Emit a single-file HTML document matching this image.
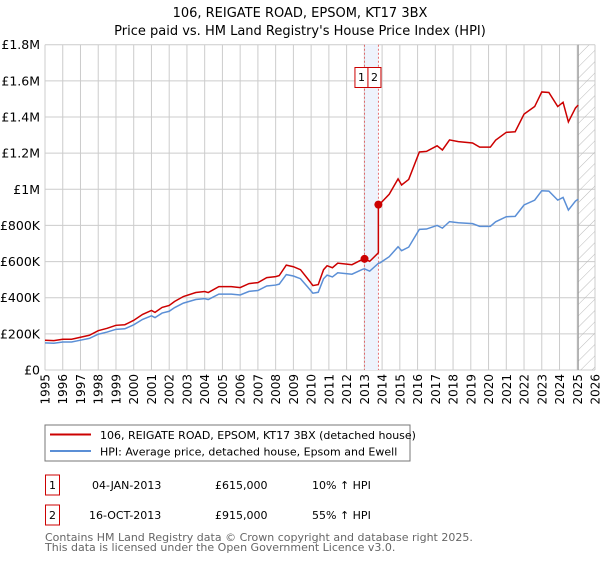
<!DOCTYPE html>
<html><head><meta charset="utf-8"><style>
body{margin:0;background:#fff;font-family:"Liberation Sans","DejaVu Sans",sans-serif}
svg text{font-family:"DejaVu Sans","Liberation Sans",sans-serif}
</style></head><body>
<svg id="c" width="600" height="560" xmlns="http://www.w3.org/2000/svg">
<defs><pattern id="hatch" width="8" height="8" patternUnits="userSpaceOnUse" patternTransform="rotate(45)"><line x1="0" y1="0" x2="0" y2="8" stroke="#bbb" stroke-width="1"/></pattern></defs>
<text x="300" y="17" text-anchor="middle" font-size="13">106, REIGATE ROAD, EPSOM, KT17 3BX</text>
<text x="300" y="35" text-anchor="middle" font-size="13">Price paid vs. HM Land Registry's House Price Index (HPI)</text>
<g id="grid"></g><g id="marks"></g><g id="axes"></g>
<rect x="45" y="425" width="365" height="36" fill="#fff" stroke="#777"/>
<line x1="50" y1="434.5" x2="91" y2="434.5" stroke="#cc0000" stroke-width="2"/>
<text x="100" y="439" font-size="11">106, REIGATE ROAD, EPSOM, KT17 3BX (detached house)</text>
<line x1="50" y1="451" x2="91" y2="451" stroke="#5b8fd6" stroke-width="2"/>
<text x="100" y="455.5" font-size="11">HPI: Average price, detached house, Epsom and Ewell</text>
<g>
<rect x="45.5" y="475" width="14" height="20" fill="#fff" stroke="#cc0000"/><text x="52.5" y="489" font-size="11" text-anchor="middle">1</text>
<text x="92" y="489" font-size="11">04-JAN-2013</text><text x="215" y="489" font-size="11">£615,000</text><text x="312" y="489" font-size="11">10% ↑ HPI</text></g>
<g>
<rect x="45.5" y="505" width="14" height="20" fill="#fff" stroke="#cc0000"/><text x="52.5" y="519" font-size="11" text-anchor="middle">2</text>
<text x="89" y="519" font-size="11">16-OCT-2013</text><text x="215" y="519" font-size="11">£915,000</text><text x="312" y="519" font-size="11">55% ↑ HPI</text></g>
<text x="45" y="541" font-size="11" fill="#666">Contains HM Land Registry data © Crown copyright and database right 2025.</text>
<text x="45" y="551" font-size="11" fill="#666">This data is licensed under the Open Government Licence v3.0.</text>
</svg>
<script>
const yearTicks=[1995,1996,1997,1998,1999,2000,2001,2002,2003,2004,2005,2006,2007,2008,2009,2010,2011,2012,2013,2014,2015,2016,2017,2018,2019,2020,2021,2022,2023,2024,2025,2026];
const valueTicks=[0,200000,400000,600000,800000,1000000,1200000,1400000,1600000,1800000];
const valueTickLabels=["£0","£200K","£400K","£600K","£800K","£1M","£1.2M","£1.4M","£1.6M","£1.8M"];
const hpiDates=[1995.0,1995.5,1996.0,1996.5,1997.0,1997.5,1998.0,1998.5,1999.0,1999.5,2000.0,2000.5,2001.0,2001.2,2001.6,2002.0,2002.3,2002.8,2003.5,2004.0,2004.2,2004.8,2005.5,2006.0,2006.5,2007.0,2007.5,2008.0,2008.2,2008.6,2009.0,2009.4,2009.8,2010.1,2010.4,2010.7,2010.9,2011.2,2011.5,2012.3,2012.9,2013.0,2013.3,2013.79,2013.9,2014.4,2014.9,2015.1,2015.5,2016.1,2016.5,2017.1,2017.4,2017.8,2018.3,2019.1,2019.5,2020.1,2020.4,2021.0,2021.5,2022.0,2022.6,2023.0,2023.4,2023.9,2024.2,2024.5,2024.9,2025.05];
const hpiValues=[150000,148000,155000,155000,165000,175000,198000,210000,225000,228000,250000,280000,300000,290000,315000,325000,345000,370000,390000,395000,390000,420000,420000,415000,435000,440000,465000,470000,475000,528000,520000,505000,460000,425000,430000,505000,525000,515000,538000,530000,557000,560000,547000,590000,594000,627000,682000,660000,680000,778000,780000,800000,785000,821000,815000,810000,795000,795000,820000,848000,850000,913000,940000,992000,990000,940000,955000,885000,935000,945000];
const saleDates=[2013.01,2013.79];
const salePrices=[615000,915000];
const X0=45,X1=595,Y0=370,Y1=44.7;
const x=d=>X0+(d-1995)/(2026-1995)*(X1-X0);
const y=v=>Y0-v/1800000*(Y0-Y1);
const NS="http://www.w3.org/2000/svg";
function mk(p,t,a){const e=document.createElementNS(NS,t);for(const k in a)e.setAttribute(k,a[k]);p.appendChild(e);return e;}
const grid=document.getElementById('grid'),marks=document.getElementById('marks'),axes=document.getElementById('axes');
mk(grid,'rect',{x:X0,y:Y1,width:X1-X0,height:Y0-Y1,fill:'#fff'});
yearTicks.forEach(t=>{const l=mk(grid,'line',{x1:x(t),x2:x(t),y1:Y1,y2:Y0,stroke:'#ccc'});


const tx=mk(axes,'text',{x:0,y:0,'font-size':12,'text-anchor':'end',transform:`translate(${x(t)+4.5},${Y0+4}) rotate(-90)`});tx.textContent=t;

});
valueTicks.forEach((t,i)=>{const l=mk(grid,'line',{x1:X0,x2:X1,y1:y(t),y2:y(t),stroke:'#ccc'});


const tx=mk(axes,'text',{x:40,y:y(t)+4.5,'font-size':12.5,'text-anchor':'end'});tx.textContent=valueTickLabels[i];

});
const band=mk(marks,'rect',{x:x(saleDates[0]),y:Y1,width:x(saleDates[1])-x(saleDates[0]),height:Y0-Y1,fill:'#eef3fc'});


saleDates.forEach((d,i)=>{const l=mk(marks,'line',{x1:x(d),x2:x(d),y1:Y1,y2:Y0,stroke:'#e05050','stroke-dasharray':'2,2','stroke-width':0.8});

});
const endD=hpiDates[hpiDates.length-1];
const h=mk(marks,'rect',{x:x(endD),y:Y1,width:X1-x(endD),height:Y0-Y1,fill:'url(#hatch)'});


const hl=mk(marks,'line',{x1:x(endD),x2:x(endD),y1:Y1,y2:Y0,stroke:'#999','stroke-width':1.2});


function hpiAt(d){for(let i=1;i<hpiDates.length;i++){if(d<=hpiDates[i]){const f=(d-hpiDates[i-1])/(hpiDates[i]-hpiDates[i-1]);return hpiValues[i-1]+f*(hpiValues[i]-hpiValues[i-1]);}}return hpiValues[hpiValues.length-1];}
const hp=mk(marks,'polyline',{points:hpiDates.map((d,i)=>x(d)+','+y(hpiValues[i])).join(' '),fill:'none',stroke:'#5b8fd6','stroke-width':1.5});


const pts=[];let jumped=false;
hpiDates.forEach((d,i)=>{let k=d<saleDates[1]?0:1;if(d>=saleDates[1]&&!jumped){pts.push([saleDates[1],salePrices[0]*hpiAt(saleDates[1])/hpiAt(saleDates[0])]);pts.push([saleDates[1],salePrices[1]]);jumped=true;}
pts.push([d,salePrices[k]*hpiValues[i]/hpiAt(saleDates[k])]);});
const pp=mk(marks,'polyline',{points:pts.map(p=>x(p[0])+','+y(p[1])).join(' '),fill:'none',stroke:'#cc0000','stroke-width':1.5});


const mid=(x(saleDates[0])+x(saleDates[1]))/2-3.5;
saleDates.forEach((d,i)=>{const c=mk(marks,'circle',{cx:x(d),cy:y(salePrices[i]),r:4,fill:'#cc0000'});


const bx=i===0?mid-13:mid;
const r=mk(marks,'rect',{x:bx,y:67.5,width:13,height:20,fill:'#fff',stroke:'#cc0000'});


const t=mk(marks,'text',{x:bx+6.5,y:81,'font-size':11,'text-anchor':'middle'});t.textContent=i+1;

});
</script>
</body></html>
